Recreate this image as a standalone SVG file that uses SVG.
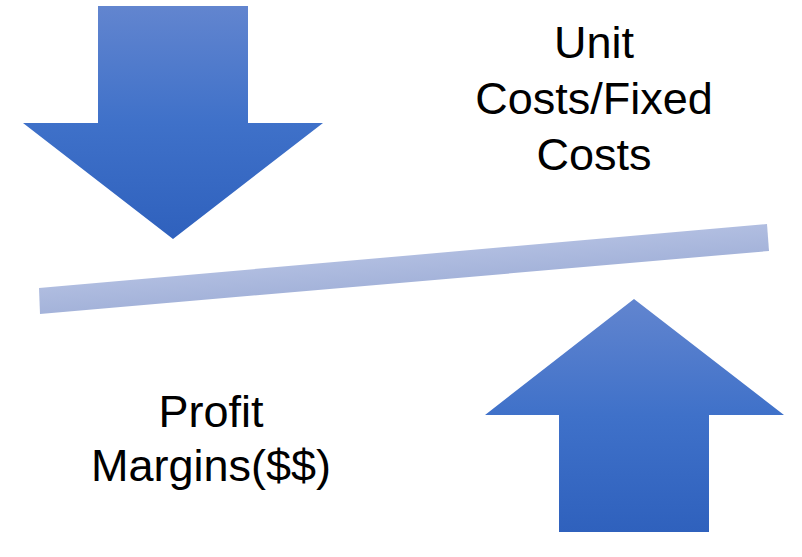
<svg xmlns="http://www.w3.org/2000/svg" width="802" height="557" viewBox="0 0 802 557">
  <defs>
    <linearGradient id="gDown" x1="0" y1="0" x2="0" y2="1">
      <stop offset="0" stop-color="#6285cf"/>
      <stop offset="0.5" stop-color="#3f71c9"/>
      <stop offset="1" stop-color="#2f61bd"/>
    </linearGradient>
    <linearGradient id="gUp" x1="0" y1="0" x2="0" y2="1">
      <stop offset="0" stop-color="#6285cf"/>
      <stop offset="0.5" stop-color="#3f71c9"/>
      <stop offset="1" stop-color="#2f61bd"/>
    </linearGradient>
    <linearGradient id="gBar" gradientUnits="userSpaceOnUse" x1="400" y1="240" x2="405" y2="300">
      <stop offset="0" stop-color="#b7c3e4"/>
      <stop offset="1" stop-color="#9dadd6"/>
    </linearGradient>
    <style>
      .lbl { font-family: "Liberation Sans", Arial, sans-serif; font-size: 45px; fill: #000000; text-anchor: middle; }
    </style>
  </defs>
  <rect width="802" height="557" fill="#ffffff"/>
  <g id="down-arrow">
    <polygon points="98,6 248,6 248,123 323,123 173,239 23,123 98,123" fill="url(#gDown)"/>
  </g>
  <g id="up-arrow">
    <polygon points="634,299 784,415 709,415 709,532 559,532 559,415 485,415" fill="url(#gUp)"/>
  </g>
  <g id="connectors">
    <polygon id="bar" points="39,288 767,224 769,251 40,314" fill="url(#gBar)"/>
  </g>
  <g id="label-costs">
    <text class="lbl" x="594" y="58">Unit</text>
    <text class="lbl" x="594" y="114">Costs/Fixed</text>
    <text class="lbl" x="594" y="170">Costs</text>
  </g>
  <g id="label-profit">
    <text class="lbl" x="211" y="427">Profit</text>
    <text class="lbl" x="211" y="481">Margins($$)</text>
  </g>
</svg>
